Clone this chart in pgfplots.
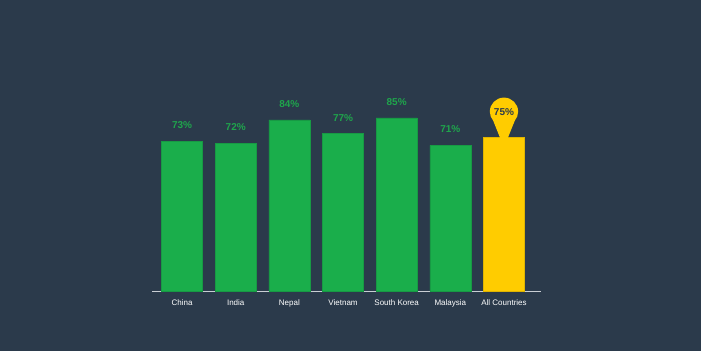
\documentclass[border=0pt]{standalone}
\usepackage{fontspec}
\setmainfont{Liberation Sans}
\usepackage{pgfplots}
\pgfplotsset{compat=1.18}
\usetikzlibrary{shapes.callouts}
\definecolor{bg}{HTML}{2B3A4B}
\definecolor{bargreen}{HTML}{1AAE4B}
\definecolor{barline}{HTML}{179A44}
\definecolor{lblgreen}{HTML}{1FA54B}
\definecolor{pinyellow}{HTML}{FFCC00}
\definecolor{pinline}{HTML}{E0B400}
\definecolor{axisgray}{HTML}{C9CED4}
\begin{document}
\begin{tikzpicture}[x=1pt,y=1pt]
\fill[bg] (0,0) rectangle (701,351);
\useasboundingbox (0,0) rectangle (701,351);
\begin{axis}[
  at={(152pt,60pt)}, anchor=south west,
  scale only axis, width=389pt, height=215.8pt,
  xmin=-0.56, xmax=6.69, ymin=0, ymax=110,
  enlarge x limits=false, enlarge y limits=false,
  axis y line=none, axis x line*=bottom,
  x axis line style={axisgray, line width=0.8pt},
  xtick={0,...,6},
  xticklabels={China,India,Nepal,Vietnam,South Korea,Malaysia,All Countries},
  major tick length=0pt,
  xticklabel style={font=\fontsize{8}{9}\selectfont, text=white, yshift=-5pt},
  ybar, bar width=41pt, bar shift=0pt,
  y filter/.expression={y+3.2},
  point meta=rawy,
  nodes near coords={\pgfmathprintnumber[assume math mode=true]{\pgfplotspointmeta}\%},
  clip=false,
]
\addplot[fill=bargreen, draw=barline, line width=0.5pt,
  every node near coord/.append style={text=lblgreen, font=\bfseries\fontsize{10}{12}\selectfont, anchor=center, yshift=16pt}]
  coordinates {(0,73) (1,72) (2,84) (3,77) (4,85) (5,71)};
\addplot[fill=pinyellow, draw=pinline, line width=0.5pt,
  every node near coord/.append style={ellipse callout, fill=pinyellow, draw=none,
    minimum width=28pt, minimum height=28pt, inner sep=0pt, text=bg,
    font=\bfseries\fontsize{10}{12}\selectfont, anchor=center, yshift=26pt,
    callout relative pointer={(0pt,-22pt)}, callout pointer arc=100}]
  coordinates {(6,75)};
\end{axis}
\end{tikzpicture}
\end{document}
